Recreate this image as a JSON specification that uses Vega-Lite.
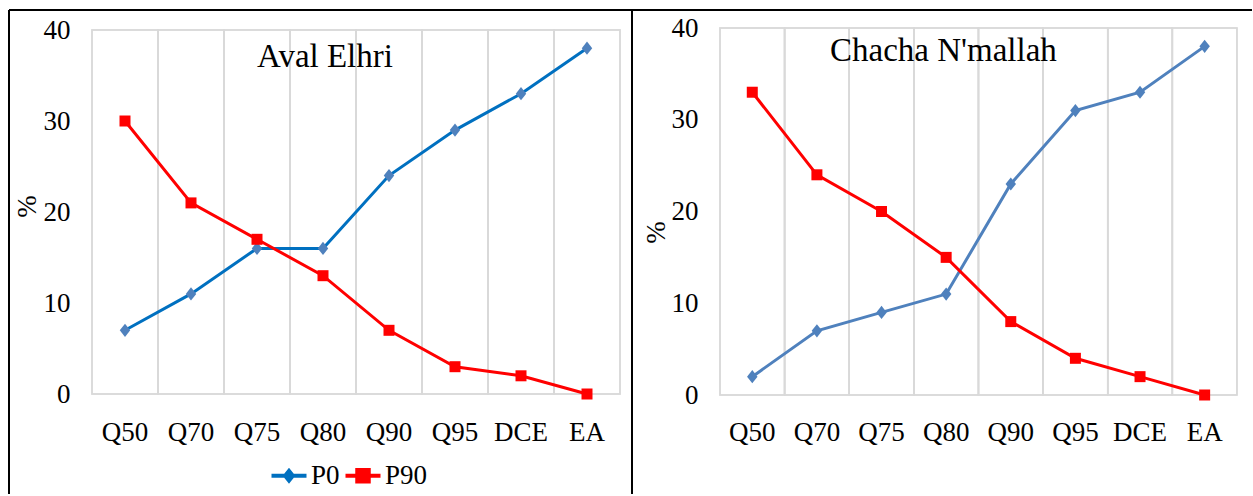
{
  "$schema": "https://vega.github.io/schema/vega-lite/v6.json",
  "padding": {"left": 8, "top": 9, "right": 0, "bottom": 0},
  "background": "white",
  "bounds": "flush",
  "spacing": 0,
  "datasets": {
    "aval": [
      {"q": "Q50", "series": "P0", "value": 7},
      {"q": "Q70", "series": "P0", "value": 11},
      {"q": "Q75", "series": "P0", "value": 16},
      {"q": "Q80", "series": "P0", "value": 16},
      {"q": "Q90", "series": "P0", "value": 24},
      {"q": "Q95", "series": "P0", "value": 29},
      {"q": "DCE", "series": "P0", "value": 33},
      {"q": "EA", "series": "P0", "value": 38},
      {"q": "Q50", "series": "P90", "value": 30},
      {"q": "Q70", "series": "P90", "value": 21},
      {"q": "Q75", "series": "P90", "value": 17},
      {"q": "Q80", "series": "P90", "value": 13},
      {"q": "Q90", "series": "P90", "value": 7},
      {"q": "Q95", "series": "P90", "value": 3},
      {"q": "DCE", "series": "P90", "value": 2},
      {"q": "EA", "series": "P90", "value": 0}
    ],
    "chacha": [
      {"q": "Q50", "series": "P0", "value": 2},
      {"q": "Q70", "series": "P0", "value": 7},
      {"q": "Q75", "series": "P0", "value": 9},
      {"q": "Q80", "series": "P0", "value": 11},
      {"q": "Q90", "series": "P0", "value": 23},
      {"q": "Q95", "series": "P0", "value": 31},
      {"q": "DCE", "series": "P0", "value": 33},
      {"q": "EA", "series": "P0", "value": 38},
      {"q": "Q50", "series": "P90", "value": 33},
      {"q": "Q70", "series": "P90", "value": 24},
      {"q": "Q75", "series": "P90", "value": 20},
      {"q": "Q80", "series": "P90", "value": 15},
      {"q": "Q90", "series": "P90", "value": 8},
      {"q": "Q95", "series": "P90", "value": 4},
      {"q": "DCE", "series": "P90", "value": 2},
      {"q": "EA", "series": "P90", "value": 0}
    ]
  },
  "hconcat": [
    {
      "width": 623,
      "height": 484,
      "view": {"stroke": "#000000", "strokeWidth": 2, "strokeDash": [1107, 623, 484, 0]},
      "data": {"name": "aval"},
      "title": {"text": "Aval Elhri", "frame": "group", "anchor": "start", "dx": 248, "offset": -64, "baseline": "top", "font": "Liberation Serif", "fontSize": 33, "fontWeight": "normal", "color": "#000000"},
      "layer": [
        {
          "mark": {"type": "rect", "fill": "transparent", "stroke": "#D9D9D9", "strokeWidth": 1.5},
          "encoding": {
            "x": {"field": "q", "type": "nominal", "sort": ["Q50", "Q70", "Q75", "Q80", "Q90", "Q95", "DCE", "EA"], "scale": {"type": "band", "paddingInner": 0, "paddingOuter": 0.7197, "align": 0.8737}, "axis": {"orient": "bottom", "offset": -62, "title": null, "grid": false, "domain": false, "ticks": false, "tickSize": 0, "labelPadding": 0, "labelAngle": 0, "labelBaseline": "middle", "labelFont": "Liberation Serif", "labelFontSize": 27, "labelColor": "#000000"}},
            "y": {"datum": 40, "type": "quantitative", "scale": {"domain": [-10.989, 42.198], "nice": false, "zero": false}, "axis": {"values": [0, 10, 20, 30, 40], "grid": false, "domain": false, "ticks": false, "tickSize": 0, "labelPadding": 0, "offset": -61, "labelFont": "Liberation Serif", "labelFontSize": 27, "labelColor": "#000000", "labelOverlap": false, "labelBound": false, "labelFlush": false, "title": "%", "titleFont": "Liberation Serif", "titleFontSize": 27, "titleFontWeight": "normal", "titleColor": "#000000", "titleX": -42.5, "titleY": 196, "titleAlign": "center", "titleBaseline": "middle", "titleAngle": -90}},
            "y2": {"datum": 0}
          }
        },
        {
          "mark": {"type": "line", "strokeWidth": 3},
          "encoding": {
            "x": {"field": "q", "type": "nominal", "sort": ["Q50", "Q70", "Q75", "Q80", "Q90", "Q95", "DCE", "EA"]},
            "y": {"field": "value", "type": "quantitative"},
            "detail": {"field": "series"},
            "color": {"condition": {"test": "datum.series === 'P0'", "value": "#0070C0"}, "value": "#FF0000"}
          }
        },
        {
          "mark": {"type": "point", "filled": true, "size": 121, "opacity": 1},
          "encoding": {
            "x": {"field": "q", "type": "nominal", "sort": ["Q50", "Q70", "Q75", "Q80", "Q90", "Q95", "DCE", "EA"]},
            "y": {"field": "value", "type": "quantitative"},
            "shape": {"condition": {"test": "datum.series === 'P0'", "value": "M0,-1.2L0.95,0L0,1.2L-0.95,0Z"}, "value": "square"},
            "color": {"condition": {"test": "datum.series === 'P0'", "value": "#4F81BD"}, "value": "#FF0000"}
          }
        },
        {
          "transform": [{"filter": "false"}],
          "mark": {"type": "point", "filled": true, "size": 100, "opacity": 1},
          "encoding": {
            "x": {"field": "q", "type": "nominal", "sort": ["Q50", "Q70", "Q75", "Q80", "Q90", "Q95", "DCE", "EA"]},
            "y": {"field": "value", "type": "quantitative"},
            "color": {"field": "series", "type": "nominal", "scale": {"domain": ["P0", "P90"], "range": ["#0070C0", "#FF0000"]}, "legend": {"orient": "none", "legendX": 266.5, "legendY": 452, "direction": "horizontal", "columns": 2, "title": null, "padding": 0, "symbolSize": 100, "symbolStrokeWidth": 0, "symbolOpacity": 1, "labelFont": "Liberation Serif", "labelFontSize": 27, "labelColor": "#000000", "labelOffset": 8.5, "columnPadding": 5, "labelLimit": 0}},
            "shape": {"field": "series", "type": "nominal", "scale": {"domain": ["P0", "P90"], "range": ["M-3.5,-0.4H-0.96L0,-1.6L0.96,-0.4H3.5V0.4H0.96L0,1.6L-0.96,0.4H-3.5Z", "M-3.5,-0.4H-1.55V-1.55H1.55V-0.4H3.5V0.4H1.55V1.55H-1.55V0.4H-3.5Z"]}, "legend": {"orient": "none", "legendX": 266.5, "legendY": 452, "direction": "horizontal", "columns": 2, "title": null, "padding": 0, "symbolSize": 100, "symbolStrokeWidth": 0, "symbolOpacity": 1, "labelFont": "Liberation Serif", "labelFontSize": 27, "labelColor": "#000000", "labelOffset": 8.5, "columnPadding": 5, "labelLimit": 0}}
          }
        }
      ]
    },
    {
      "width": 620,
      "height": 484,
      "view": {"stroke": "#000000", "strokeWidth": 2, "strokeDash": [620, 1104, 484, 0]},
      "data": {"name": "chacha"},
      "title": {"text": "Chacha N'mallah", "frame": "group", "anchor": "start", "dx": 198, "offset": -58, "baseline": "top", "font": "Liberation Serif", "fontSize": 33, "fontWeight": "normal", "color": "#000000"},
      "layer": [
        {
          "mark": {"type": "rect", "fill": "transparent", "stroke": "#D9D9D9", "strokeWidth": 1.5},
          "encoding": {
            "x": {"field": "q", "type": "nominal", "sort": ["Q50", "Q70", "Q75", "Q80", "Q90", "Q95", "DCE", "EA"], "scale": {"type": "band", "paddingInner": 0, "paddingOuter": 0.797, "align": 0.854}, "axis": {"orient": "bottom", "offset": -62, "title": null, "grid": false, "domain": false, "ticks": false, "tickSize": 0, "labelPadding": 0, "labelAngle": 0, "labelBaseline": "middle", "labelFont": "Liberation Serif", "labelFontSize": 27, "labelColor": "#000000"}},
            "y": {"datum": 40, "type": "quantitative", "scale": {"domain": [-10.79, 41.962], "nice": false, "zero": false}, "axis": {"values": [0, 10, 20, 30, 40], "grid": false, "domain": false, "ticks": false, "tickSize": 0, "labelPadding": 0, "offset": -66, "labelFont": "Liberation Serif", "labelFontSize": 27, "labelColor": "#000000", "labelOverlap": false, "labelBound": false, "labelFlush": false, "title": "%", "titleFont": "Liberation Serif", "titleFontSize": 27, "titleFontWeight": "normal", "titleColor": "#000000", "titleX": -42, "titleY": 222, "titleAlign": "center", "titleBaseline": "middle", "titleAngle": -90}},
            "y2": {"datum": 0}
          }
        },
        {
          "mark": {"type": "line", "strokeWidth": 3},
          "encoding": {
            "x": {"field": "q", "type": "nominal", "sort": ["Q50", "Q70", "Q75", "Q80", "Q90", "Q95", "DCE", "EA"]},
            "y": {"field": "value", "type": "quantitative"},
            "detail": {"field": "series"},
            "color": {"condition": {"test": "datum.series === 'P0'", "value": "#4F81BD"}, "value": "#FF0000"}
          }
        },
        {
          "mark": {"type": "point", "filled": true, "size": 121, "opacity": 1},
          "encoding": {
            "x": {"field": "q", "type": "nominal", "sort": ["Q50", "Q70", "Q75", "Q80", "Q90", "Q95", "DCE", "EA"]},
            "y": {"field": "value", "type": "quantitative"},
            "shape": {"condition": {"test": "datum.series === 'P0'", "value": "M0,-1.2L0.95,0L0,1.2L-0.95,0Z"}, "value": "square"},
            "color": {"condition": {"test": "datum.series === 'P0'", "value": "#4F81BD"}, "value": "#FF0000"}
          }
        },
        {
          "transform": [{"filter": "false"}],
          "mark": {"type": "point", "filled": true, "size": 100, "opacity": 1},
          "encoding": {
            "x": {"field": "q", "type": "nominal", "sort": ["Q50", "Q70", "Q75", "Q80", "Q90", "Q95", "DCE", "EA"]},
            "y": {"field": "value", "type": "quantitative"},
            "color": {"field": "series", "type": "nominal", "scale": {"domain": ["P0", "P90"], "range": ["#4F81BD", "#FF0000"]}, "legend": {"orient": "none", "legendX": 253.5, "legendY": 452, "direction": "horizontal", "columns": 2, "title": null, "padding": 0, "symbolSize": 100, "symbolStrokeWidth": 0, "symbolOpacity": 1, "labelFont": "Liberation Serif", "labelFontSize": 27, "labelColor": "#000000", "labelOffset": 8.5, "columnPadding": 5, "labelLimit": 0}},
            "shape": {"field": "series", "type": "nominal", "scale": {"domain": ["P0", "P90"], "range": ["M-3.5,-0.4H-0.96L0,-1.6L0.96,-0.4H3.5V0.4H0.96L0,1.6L-0.96,0.4H-3.5Z", "M-3.5,-0.4H-1.55V-1.55H1.55V-0.4H3.5V0.4H1.55V1.55H-1.55V0.4H-3.5Z"]}, "legend": {"orient": "none", "legendX": 253.5, "legendY": 452, "direction": "horizontal", "columns": 2, "title": null, "padding": 0, "symbolSize": 100, "symbolStrokeWidth": 0, "symbolOpacity": 1, "labelFont": "Liberation Serif", "labelFontSize": 27, "labelColor": "#000000", "labelOffset": 8.5, "columnPadding": 5, "labelLimit": 0}}
          }
        }
      ]
    }
  ]
}
